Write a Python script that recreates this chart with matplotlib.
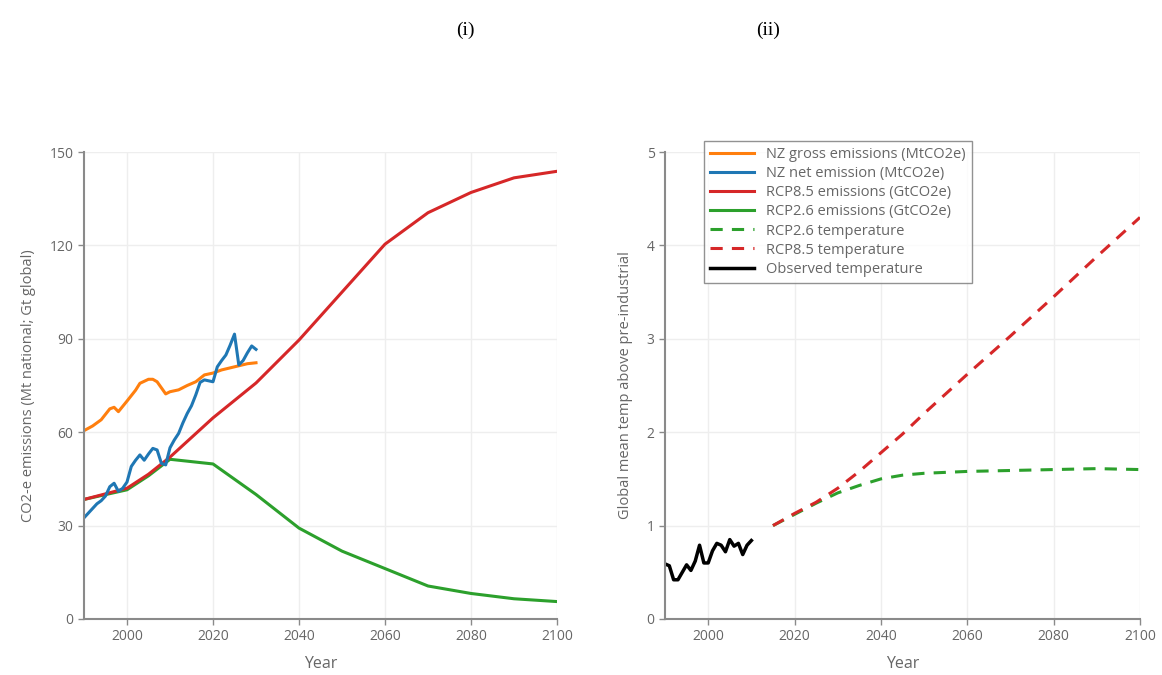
import numpy as np
import matplotlib.pyplot as plt

# NZ national emissions (Mt CO2e)
gross_years = [1990, 1992, 1994, 1996, 1997, 1998, 2000, 2002, 2003, 2005, 2006, 2007,
               2009, 2010, 2012, 2014, 2016, 2018, 2020, 2022, 2025, 2028, 2030]
gross_vals = [60.5, 62, 64, 67.5, 68, 66.6, 70, 73.5, 75.7, 77, 77, 76.2,
              72.3, 73, 73.6, 75, 76.2, 78.4, 79, 80, 81, 82, 82.3]

net_years = [1990, 1991, 1992, 1993, 1994, 1995, 1996, 1997, 1998, 1999, 2000, 2001,
             2002, 2003, 2004, 2005, 2006, 2007, 2008, 2009, 2010, 2011, 2012, 2013,
             2014, 2015, 2016, 2017, 2018, 2019, 2020, 2021, 2022, 2023, 2024, 2025,
             2026, 2027, 2028, 2029, 2030]
net_vals = [32.5, 34, 35.5, 37, 38, 39.5, 42.5, 43.6, 41, 42, 44, 49,
            51, 52.7, 51, 53, 54.8, 54.3, 50, 49.5, 55, 57.5, 59.6, 63,
            66, 68.5, 72, 76, 76.8, 76.5, 76.2, 81, 83, 84.8, 88, 91.5,
            81.6, 83, 85.5, 87.7, 86.6]

# global RCP emission pathways (Gt CO2e)
rcp_years = [1990, 2000, 2005, 2010, 2020, 2030, 2040, 2050, 2060, 2070, 2080, 2090, 2100]
rcp85_vals = [38.4, 42, 46.5, 52, 64.6, 75.8, 89.6, 105, 120.4, 130.5, 137, 141.7, 143.8]
rcp26_vals = [38.4, 41.5, 46, 51.3, 49.8, 40, 29.2, 21.8, 16.2, 10.6, 8.2, 6.5, 5.6]

# temperatures (deg C above pre-industrial)
obs_years = list(range(1990, 2011))
obs_vals = [0.59, 0.57, 0.42, 0.42, 0.50, 0.58, 0.52, 0.62, 0.79, 0.60, 0.60, 0.73,
            0.81, 0.79, 0.72, 0.85, 0.78, 0.81, 0.69, 0.79, 0.84]

temp_years = [2015, 2020, 2025, 2030, 2035, 2040, 2045, 2050, 2060, 2070, 2080, 2090, 2100]
t85_vals = [1.0, 1.13, 1.25, 1.40, 1.58, 1.78, 1.98, 2.2, 2.62, 3.03, 3.45, 3.88, 4.3]
t26_vals = [1.0, 1.12, 1.24, 1.35, 1.43, 1.50, 1.54, 1.56, 1.58, 1.59, 1.60, 1.61, 1.60]

xticks = [2000, 2020, 2040, 2060, 2080, 2100]

plt.rcParams['font.family'] = ['Open Sans', 'DejaVu Sans']

c_orange = '#ff7f0e'
c_blue = '#1f77b4'
c_red = '#d62728'
c_green = '#2ca02c'
txt = '#666666'

fig = plt.figure(figsize=(11.62, 6.75), dpi=100)
ax1 = fig.add_axes([84/1162, 1 - 619/675, (557-84)/1162, (619-152)/675])
ax2 = fig.add_axes([665/1162, 1 - 619/675, (1140-665)/1162, (619-152)/675])


def style(ax, ymax, yticks, ylabel):
    ax.set_xlim(1990, 2100)
    ax.set_ylim(0, ymax)
    ax.set_xticks(xticks)
    ax.set_yticks(yticks)
    ax.grid(color='#eeeeee', linewidth=1)
    ax.set_axisbelow(True)
    for s in ['top', 'right']:
        ax.spines[s].set_visible(False)
    for s in ['left', 'bottom']:
        ax.spines[s].set_color('#8a8a8a')
        ax.spines[s].set_linewidth(1.5)
    ax.tick_params(colors='#8a8a8a', labelcolor=txt, labelsize=10, length=4, width=1)
    ax.set_xlabel('Year', color=txt, fontsize=11.5)
    ax.xaxis.set_label_coords(0.5, -(664 - 619) / (619 - 152))
    ax.xaxis.label.set_va('center')
    ax.set_ylabel(ylabel, color=txt, fontsize=10.5, labelpad=10)


lw = 2.2
ax1.plot(rcp_years, rcp26_vals, color=c_green, lw=lw)
ax1.plot(rcp_years, rcp85_vals, color=c_red, lw=lw)
ax1.plot(gross_years, gross_vals, color=c_orange, lw=lw)
ax1.plot(net_years, net_vals, color=c_blue, lw=lw)
style(ax1, 150, [0, 30, 60, 90, 120, 150], 'CO2-e emissions (Mt national; Gt global)')

# legend entries mirror the combined figure
ax2.plot([], [], color=c_orange, lw=lw, label='NZ gross emissions (MtCO2e)')
ax2.plot([], [], color=c_blue, lw=lw, label='NZ net emission (MtCO2e)')
ax2.plot([], [], color=c_red, lw=lw, label='RCP8.5 emissions (GtCO2e)')
ax2.plot([], [], color=c_green, lw=lw, label='RCP2.6 emissions (GtCO2e)')
ax2.plot(temp_years, t26_vals, color=c_green, lw=lw, ls=(0, (4, 3)), label='RCP2.6 temperature')
ax2.plot(temp_years, t85_vals, color=c_red, lw=lw, ls=(0, (4, 3)), label='RCP8.5 temperature')
ax2.plot(obs_years, obs_vals, color='black', lw=lw + 0.3, label='Observed temperature')
style(ax2, 5, [0, 1, 2, 3, 4, 5], 'Global mean temp above pre-industrial')

leg = ax2.legend(loc='upper left', bbox_to_anchor=(0.066, 1.04), fontsize=10.5,
                 frameon=True, fancybox=False, handlelength=3.0, labelspacing=0.28,
                 borderpad=0.45, labelcolor=txt)
leg.get_frame().set_edgecolor('#777777')
leg.get_frame().set_linewidth(1)

fig.text(465/1162, 1 - 30/675, '(i)', family='Liberation Serif', fontsize=14,
         ha='center', va='center')
fig.text(768/1162, 1 - 30/675, '(ii)', family='Liberation Serif', fontsize=14,
         ha='center', va='center')

fig.savefig('out.png', dpi=100)
